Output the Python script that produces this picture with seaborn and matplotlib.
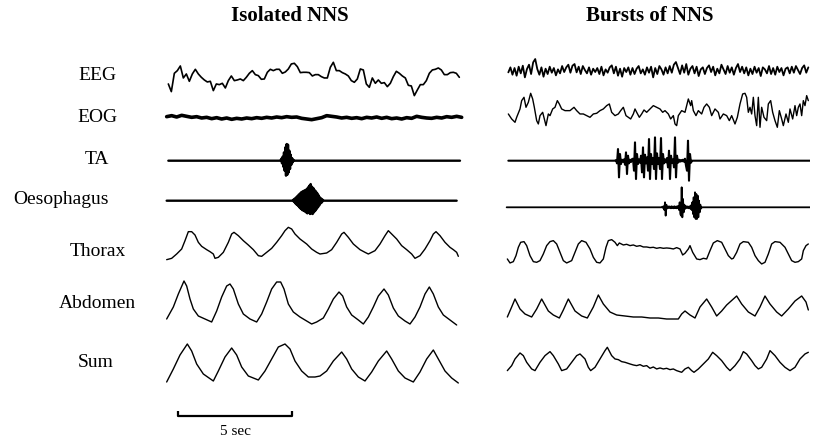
import numpy as np
import matplotlib
matplotlib.use("Agg")
import matplotlib.pyplot as plt
import seaborn as sns

# time base of the traces (samples per second) and scale bar length
FS = 68.7
SCALE_SEC = 5

# ---------------- Isolated NNS (left column) ----------------
# EEG, uniform samples
eeg_l = [-20, -43, 12, 20, 34, -2, 10, -12, 10, 24, 10, 0, -8, -14, -12, -40, -20, -22,
         -18, -32, -10, 4, -10, -8, -5, -10, 0, 12, 20, 8, 5, -6, -5, 15, 24, 20, 24, 24,
         12, 16, 25, 40, 42, 32, 14, 15, 15, 14, 4, 8, 8, 2, -2, -2, 30, 45, 20, 20, 14,
         10, 4, -10, -15, -5, 25, 22, -20, -30, -2, -18, -8, -18, -16, -28, -18, 2, 18, 12,
         4, -2, -24, -26, -55, -38, -22, -22, -10, 12, 22, 24, 28, 22, 8, 8, 14, 15, 12, 0]

# EOG, uniform samples
eog_l = [4, 7, 3, 8, 5, 2, 4, 0, 2, -2, 1, -3, 0, -4, -1, -3, 0, -2, 1, -1, 2, 0, 3, 1, 4,
         2, 3, -1, -3, -5, -2, 1, 7, 5, 3, 0, 2, -1, 1, -2, 2, 0, 3, -1, 2, -2, 0, -3, 1, -1,
         5, 2, 0, -1, 2, 0, 4, 2, 5, 2]

ta_l_span = [25, 900]
ta_l_burst_start = 362
ta_l_burst = [0, 6, -8, 12, -18, 25, -30, 40, -45, 50, -42, 48, -35, 30, -25, 18, -12, 8,
              -5, 3, 0]

oes_l_span = [20, 890]
oes_l_burst_start = 400
oes_l_burst = [3, -4, 6, -8, 10, -12, 14, -16, 18, -20, 22, -24, 26, -28, 28, -30, 30, -32,
               32, -35, 35, -38, 40, -36, 45, -40, 50, -38, 42, -40, 38, -35, 32, -30, 28,
               -25, 22, -20, 16, -14, 10, -8, 6, -5, 3, 0]

thor_l_idx = [20, 35, 50, 65, 75, 85, 95, 105, 115, 125, 140, 150, 160, 165, 175, 190, 205,
              215, 222, 235, 250, 265, 280, 295, 305, 320, 335, 350, 365, 375, 385, 395,
              405, 420, 440, 455, 470, 480, 500, 515, 530, 545, 552, 565, 580, 600, 615,
              625, 645, 660, 675, 685, 695, 710, 725, 740, 755, 765, 780, 795, 810, 820,
              828, 840, 855, 870, 880, 890, 895]
thor_l = [-47, -43, -30, -15, 10, 37, 37, 27, 5, -7, -17, -23, -30, -43, -40, -25, 5, 30,
          35, 25, 10, -3, -17, -35, -37, -25, -13, 5, 25, 40, 50, 45, 30, 15, 0, -15, -25,
          -30, -27, -17, 5, 30, 35, 20, 0, -17, -25, -30, -20, 0, 25, 40, 30, 15, -5, -17,
          -30, -43, -35, -15, 10, 30, 37, 25, 5, -10, -17, -25, -37]

abd_l_idx = [20, 40, 55, 72, 80, 90, 100, 115, 135, 155, 170, 185, 200, 210, 220, 235, 250,
             270, 290, 305, 320, 335, 350, 362, 372, 385, 400, 420, 440, 455, 470, 490, 505,
             520, 537, 548, 560, 575, 595, 610, 625, 640, 655, 672, 685, 700, 715, 735, 750,
             765, 780, 795, 808, 820, 835, 850, 870, 890]
abd_l = [-15, -3, 10, 23, 18, 5, -5, -12, -15, -18, -7, 7, 18, 20, 15, 0, -10, -15, -18,
         -10, 2, 15, 22, 22, 15, 0, -8, -13, -17, -20, -18, -14, -5, 5, 12, 8, -3, -11, -16,
         -20, -13, -3, 8, 15, 9, -4, -12, -17, -20, -13, -3, 10, 17, 10, -3, -11, -16, -21]

sum_l_idx = [20, 40, 60, 82, 95, 110, 130, 160, 175, 195, 215, 230, 245, 265, 295, 315, 335,
             355, 375, 390, 405, 425, 445, 465, 480, 500, 520, 545, 560, 575, 595, 615, 635,
             655, 680, 695, 715, 735, 760, 780, 800, 820, 835, 855, 875, 895]
sum_l = [-18, -5, 9, 20, 13, 0, -10, -17, -7, 7, 16, 9, -3, -12, -16, -7, 5, 17, 20, 15, 3,
         -7, -13, -13, -12, -7, 3, 12, 5, -5, -13, -17, -8, 3, 13, 5, -7, -14, -18, -8, 5,
         14, 5, -7, -14, -19]

# ---------------- Bursts of NNS (right column) ----------------
eeg_r = [-5, 10, -12, 8, -15, 12, -8, 15, -20, 5, 18, -10, 25, 35, 5, -12, 10, -18, 6, -10,
         12, -6, 8, -14, 4, -8, 14, -4, 10, 18, -6, 15, 20, -5, 12, -10, 14, 2, -8, 10, -12,
         6, -4, 8, -10, 12, -14, 4, -6, 10, 16, -8, 12, -15, 6, -18, 8, -4, 10, -12, 8, -10,
         6, 14, -8, 4, -12, 10, -6, 12, -20, 8, -10, 14, 4, -12, 10, -8, 14, -6, 18, 26, 8,
         -10, 16, -6, 20, -12, 6, 14, -8, 12, -16, 4, 10, -10, 8, 16, -4, 12, -14, 6, -8, 18,
         4, -10, 14, -6, 10, -12, 8, 20, -4, 12, -8, 10, -14, 6, -10, 12, -6, 8, -16, 10, 4,
         -8, 14, -10, 8, -12, 12, -4, 8, -14, 6, 10, -8, 12, -6, 14, 2, -10, 8, 16, -6, 10]

eog_r_idx = [25, 35, 45, 50, 60, 65, 72, 78, 85, 92, 98, 103, 110, 115, 120, 128, 133, 138,
             145, 150, 158, 165, 172, 178, 185, 195, 210, 222, 230, 240, 250, 260, 270, 280,
             290, 300, 310, 320, 328, 335, 345, 355, 362, 370, 378, 385, 392, 400, 405, 410,
             418, 425, 432, 440, 450, 460, 470, 480, 488, 495, 505, 512, 520, 525, 530, 535,
             545, 555, 565, 572, 575, 580, 588, 595, 605, 612, 620, 628, 635, 645, 655, 660,
             670, 680, 688, 695, 705, 712, 720, 728, 735, 740, 745, 750, 755, 760, 765, 770,
             775, 780, 785, 792, 800, 805, 812, 818, 825, 832, 838, 845, 850, 858, 865, 870,
             878, 885, 890, 895, 900, 905, 910, 915, 920, 925]
eog_r = [-5, -20, -30, -15, 10, 35, 45, 15, 30, 57, 40, 15, -25, -35, -10, 0, -20, -40, -5,
         -10, 10, 15, 35, 25, 10, 5, 5, 15, 5, -5, -5, -10, -15, -5, -3, 5, 10, 20, 25, 0,
         -10, -5, 5, 15, -10, -15, -20, -5, 10, 0, -15, -5, 7, 0, 10, 20, 15, 10, 0, 5, -5,
         -20, -10, -35, -40, -10, 5, 0, 40, 20, 35, 5, -10, 5, -5, 15, 25, 15, -10, 10, 0,
         -20, -5, -10, -25, -10, -35, -15, 25, 55, 57, 45, 0, 15, -5, 45, -10, -40, 45, -45,
         15, -15, -25, 25, 35, 0, -25, -45, 5, -20, -40, -5, -30, 10, -20, 20, -10, 15, 25,
         -10, 35, 20, 50, 35]

ta_r_span = [25, 930]
ta_r_burst_start = 345
ta_r_burst = [0, 2, -8, 35, -50, 20, -10, 3, -3, 4, -12, 25, -40, 15, -8, 3, -4, 5, 6, -30,
              55, -55, 20, -10, 4, -6, 15, -35, 40, -50, 18, -8, 10, -30, 65, -55, 20, -10,
              8, -25, 70, -55, 22, -10, 8, -25, 68, -55, 20, -8, 4, -5, 8, -20, 30, -55, 15,
              -6, 4, -20, 70, -50, 15, -6, 3, -3, 2, -2, 3, -3, 6, -15, -30, 60, -60, 20, -6, 0]

oes_r_span = [20, 930]
oes_r_burst_start = 485
oes_r_burst = [0, 2, -2, 3, -8, 15, -25, 8, -4, 2, -2, 3, -2, 2, -3, 3, -2, 2, -3, 3, -2, 2,
               -3, 3, -2, 4, -8, 15, -20, -25, 60, -30, 25, -15, 8, -5, 3, -2, 3, -2, 2, -3,
               3, -4, 6, -8, 15, -20, 30, -30, 45, -35, 40, -35, 35, -30, 20, -15, 8, -4, 0]

thor_r_idx = [22, 30, 40, 48, 55, 62, 72, 80, 90, 100, 110, 120, 130, 140, 150, 160, 170,
              180, 190, 200, 215, 225, 235, 245, 258, 270, 280, 290, 300, 310, 318, 325, 335,
              345, 352, 358, 370, 380, 390, 400, 410, 420, 430, 440, 450, 460, 470, 480, 490,
              500, 510, 520, 530, 540, 548, 555, 565, 570, 578, 590, 600, 610, 620, 630, 640,
              652, 665, 675, 685, 695, 700, 710, 720, 730, 745, 755, 765, 775, 785, 795, 805,
              815, 825, 840, 855, 865, 875, 885, 895, 905, 910, 918, 925]
thor_r = [-20, -32, -28, -10, 15, 30, 32, 20, -10, -28, -30, -25, -5, 20, 32, 35, 25, 0, -25,
          -32, -25, 0, 25, 35, 30, 10, -15, -30, -32, -20, 15, 35, 38, 30, 20, 28, 22, 24, 20,
          22, 18, 20, 16, 16, 14, 15, 12, 14, 12, 13, 12, 10, 14, 10, -8, -3, 10, 20, 0, -20,
          -22, -18, -20, 5, 28, 35, 30, 10, -10, -20, -18, 0, 25, 32, 30, 15, -10, -25, -35,
          -30, -5, 25, 32, 30, 15, -5, -25, -30, -28, -20, 5, 20, 25]

abd_r_idx = [22, 35, 45, 60, 75, 95, 110, 125, 145, 160, 178, 190, 205, 225, 245, 262, 280,
             295, 310, 330, 350, 375, 400, 425, 450, 475, 500, 520, 535, 545, 555, 570, 585,
             600, 620, 635, 650, 665, 680, 710, 725, 745, 765, 780, 795, 810, 830, 845, 865,
             885, 905, 918, 925]
abd_r = [-8, 2, 10, 0, -5, -8, 0, 10, -2, -6, -9, -1, 10, -2, -7, -9, 2, 14, 5, -3, -6, -7,
         -8, -8, -9, -9, -10, -10, -10, -5, -2, -6, -9, 2, 10, 2, -7, -2, 4, 13, 5, -3, -7,
         2, 13, 5, -3, -7, 0, 8, 13, 7, -1]

sum_r_idx = [22, 35, 45, 60, 70, 80, 95, 105, 120, 135, 150, 160, 175, 185, 200, 215, 230,
             240, 255, 265, 272, 285, 300, 315, 322, 335, 345, 355, 365, 375, 390, 400, 410,
             420, 430, 440, 450, 460, 470, 480, 490, 500, 510, 520, 530, 545, 555, 565, 575,
             582, 595, 610, 625, 638, 650, 665, 680, 690, 705, 720, 730, 740, 755, 765, 775,
             785, 800, 810, 825, 840, 855, 870, 885, 900, 915, 925]
sum_r = [-25, -10, 10, 28, 20, 0, -20, -25, 0, 20, 32, 20, -5, -25, -20, 0, 20, 25, 10, -15,
         -25, -15, 10, 35, 45, 20, 10, 8, 2, 0, -5, -8, -10, -7, -12, -10, -18, -14, -20, -17,
         -20, -18, -22, -20, -25, -30, -20, -15, -25, -30, -20, -5, 10, 30, 20, 5, -15, -25,
         -10, 10, 32, 25, 5, -10, -20, -15, 10, 35, 20, 0, -15, -25, -15, 10, 25, 30]

row_labels = ["EEG", "EOG", "TA", "Oesophagus", "Thorax", "Abdomen", "Sum"]
titles = ["Isolated NNS", "Bursts of NNS"]

# ---------------- layout (pixels of the 819x439 canvas) ----------------
W, H = 819, 439
sns.set_theme(style="white")
plt.rcParams["font.family"] = ["Liberation Serif", "DejaVu Serif"]
plt.rcParams["text.color"] = "black"

fig = plt.figure(figsize=(W / 100, H / 100), dpi=100)
ax_l = fig.add_axes([160 / W, 0, 310 / W, 1])
ax_r = fig.add_axes([500 / W, 0, 310 / W, 1])
for ax in (ax_l, ax_r):
    ax.set_xlim(0, 930 / FS)
    ax.set_ylim(H, 0)
    ax.axis("off")


def trace(ax, idx, vals, base, gain, lw):
    t = np.asarray(idx, dtype=float) / FS
    y = base - np.asarray(vals, dtype=float) * gain
    sns.lineplot(x=t, y=y, ax=ax, color="black", linewidth=lw,
                 estimator=None, sort=False)


def burst_trace(ax, span, start, step, burst, base, gain, lw):
    idx = [span[0], start - step] + [start + step * i for i in range(len(burst))] \
        + [start + step * len(burst), span[1]]
    vals = [0, 0] + list(burst) + [0, 0]
    trace(ax, idx, vals, base, gain, lw)


z = 1 / 3  # gain for values read in third-pixel units

# left column
trace(ax_l, np.linspace(25, 898, len(eeg_l)), eeg_l, 78.3, z, 1.2)
trace(ax_l, np.linspace(20, 905, len(eog_l)), eog_l, 119, z, 2.6)
burst_trace(ax_l, ta_l_span, ta_l_burst_start, 2, ta_l_burst, 161.7, z, 1.7)
burst_trace(ax_l, oes_l_span, oes_l_burst_start, 2, oes_l_burst, 201.7, z, 1.7)
trace(ax_l, thor_l_idx, thor_l, 245, z, 1.0)
trace(ax_l, abd_l_idx, abd_l, 305, 1, 1.0)
trace(ax_l, sum_l_idx, sum_l, 365, 1, 1.0)

# right column
trace(ax_r, np.linspace(25, 925, len(eeg_r)), eeg_r, 71.7, z, 1.3)
trace(ax_r, eog_r_idx, eog_r, 113.3, z, 1.0)
burst_trace(ax_r, ta_r_span, ta_r_burst_start, 3, ta_r_burst, 161.7, z, 1.5)
burst_trace(ax_r, oes_r_span, oes_r_burst_start, 2, oes_r_burst, 208.3, z, 1.3)
trace(ax_r, thor_r_idx, thor_r, 253.3, z, 1.0)
trace(ax_r, abd_r_idx, abd_r, 310, 1, 1.0)
trace(ax_r, sum_r_idx, sum_r, 363.3, z, 1.0)

# scale bar
t0 = 53 / FS
ax_l.plot([t0, t0, t0 + SCALE_SEC, t0 + SCALE_SEC], [412, 417, 417, 412],
          color="black", lw=1.6, solid_capstyle="butt")
fig.text(236 / W, 1 - 432 / H, f"{SCALE_SEC} sec", ha="center", va="center", fontsize=11)

# row labels and titles
label_x = [97, 97, 97, 61, 98, 97, 96]
label_y = [76, 118, 160, 200, 252, 304, 363]
for txt, lx, ly in zip(row_labels, label_x, label_y):
    fig.text(lx / W, 1 - ly / H, txt, ha="center", va="center", fontsize=14)
for txt, tx in zip(titles, [290, 650]):
    fig.text(tx / W, 1 - 16 / H, txt, ha="center", va="center", fontsize=15,
             fontweight="bold")

fig.savefig("out.png", dpi=100, facecolor="white")
